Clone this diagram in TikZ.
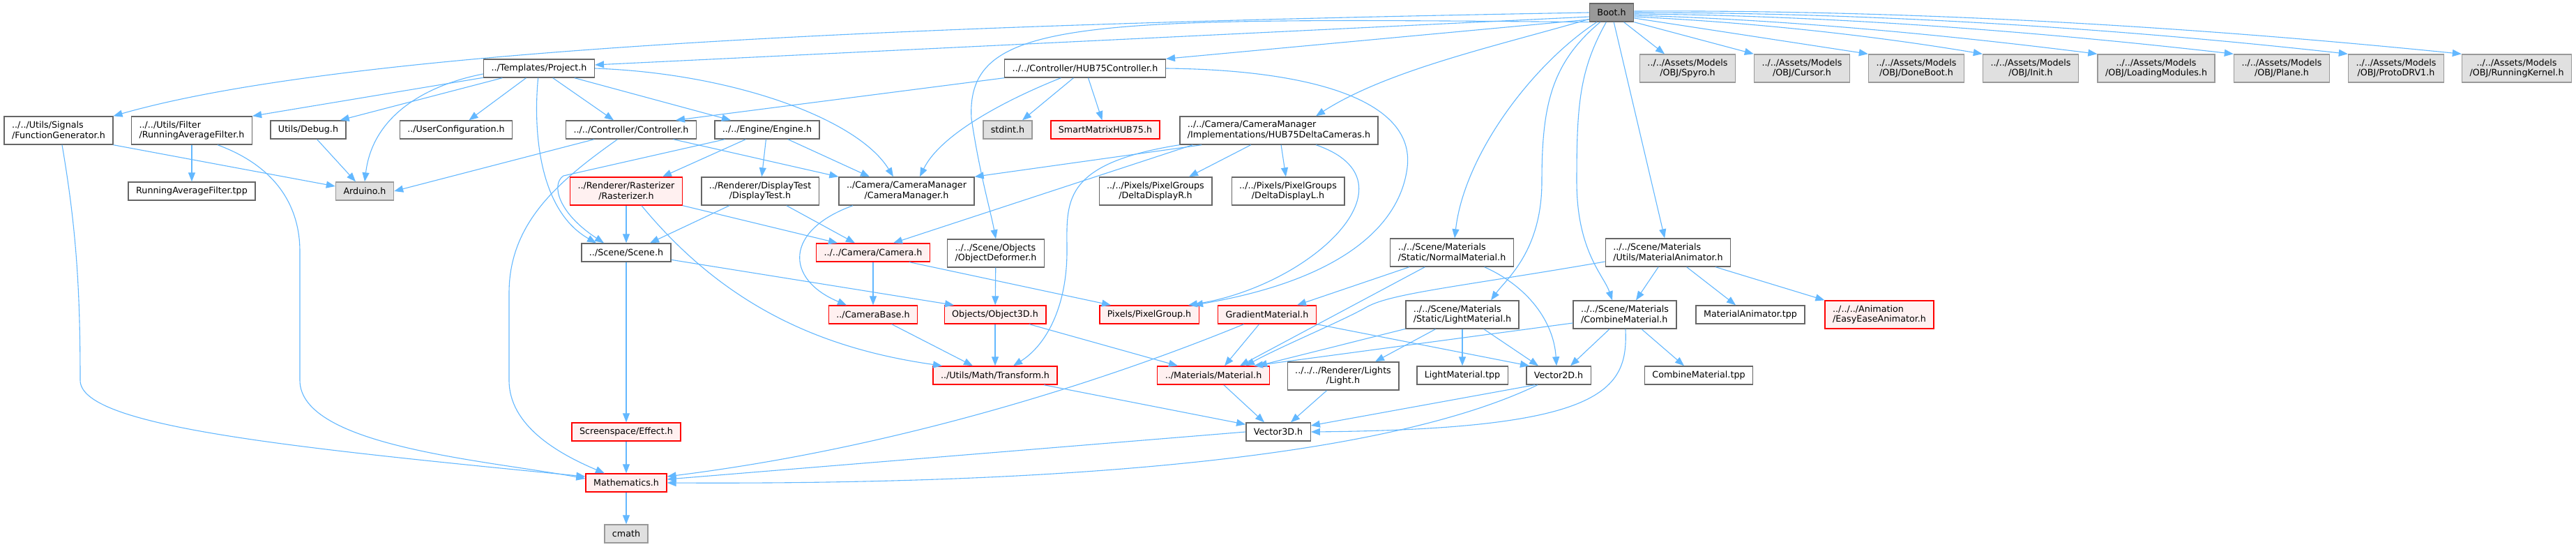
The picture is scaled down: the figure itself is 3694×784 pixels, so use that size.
\documentclass[tikz,border=0pt]{standalone}
\usepackage{fontspec}
\setmainfont{DejaVu Sans}
\usetikzlibrary{arrows.meta}
\definecolor{edgeblue}{HTML}{63B8FF}
\definecolor{redfill}{HTML}{FFF0F0}
\definecolor{sysfill}{HTML}{E0E0E0}
\definecolor{bootfill}{HTML}{999999}
\definecolor{darkline}{HTML}{666666}
\definecolor{sysline}{HTML}{999999}

\begin{document}
\begin{tikzpicture}[x=1pt, y=1pt,
  hdr/.style={draw=darkline, fill=white, line width=1.4pt, inner xsep=11pt, inner ysep=3pt,
    minimum height=26pt, align=center, font=\fontsize{12.7}{14.8}\selectfont},
  tall/.style={minimum height=40pt},
  lft/.style={align=left},
  hdrred/.style={hdr, draw=red, fill=redfill},
  hdrsys/.style={hdr, draw=sysline, fill=sysfill},
  hdrmain/.style={hdr, draw=darkline, fill=bootfill},
  incl/.style={draw=edgeblue, line width=1.1pt, -{Triangle[length=13pt,width=10pt]}}]
  \path[use as bounding box, fill=white] (0,0) rectangle (3694,-784);

  \node[hdrmain] (boot) at (2311,-18) {Boot.h};
  \node[hdr] (project) at (773,-98) {../Templates/Project.h};
  \node[hdr] (hubctl) at (1556,-98) {../../Controller/HUB75Controller.h};
  \node[hdrsys, tall] (spyro) at (2420,-98) {../../Assets/Models\\/OBJ/Spyro.h};
  \node[hdrsys, tall] (cursor) at (2584,-98) {../../Assets/Models\\/OBJ/Cursor.h};
  \node[hdrsys, tall] (doneboot) at (2748,-98) {../../Assets/Models\\/OBJ/DoneBoot.h};
  \node[hdrsys, tall] (init) at (2912,-98) {../../Assets/Models\\/OBJ/Init.h};
  \node[hdrsys, tall] (loadmod) at (3092,-98) {../../Assets/Models\\/OBJ/LoadingModules.h};
  \node[hdrsys, tall] (plane) at (3272,-98) {../../Assets/Models\\/OBJ/Plane.h};
  \node[hdrsys, tall] (protodrv) at (3436,-98) {../../Assets/Models\\/OBJ/ProtoDRV1.h};
  \node[hdrsys, tall] (runkernel) at (3609,-98) {../../Assets/Models\\/OBJ/RunningKernel.h};

  \node[hdr, tall, lft] (fungen) at (84,-187) {../../Utils/Signals\\/FunctionGenerator.h};
  \node[hdr, tall, lft] (ravgh) at (275,-187) {../../Utils/Filter\\/RunningAverageFilter.h};
  \node[hdr] (debug) at (442,-186) {Utils/Debug.h};
  \node[hdr] (usercfg) at (654,-186) {../UserConfiguration.h};
  \node[hdr] (controller) at (905,-186) {../../Controller/Controller.h};
  \node[hdr] (engine) at (1100,-186) {../../Engine/Engine.h};
  \node[hdrsys] (stdint) at (1445,-186) {stdint.h};
  \node[hdrred] (smartmx) at (1585,-186) {SmartMatrixHUB75.h};
  \node[hdr, tall, lft] (deltacams) at (1834,-187) {../../Camera/CameraManager\\/Implementations/HUB75DeltaCameras.h};

  \node[hdr] (ravgtpp) at (275,-274) {RunningAverageFilter.tpp};
  \node[hdrsys] (arduino) at (523,-274) {Arduino.h};
  \node[hdrred, tall] (rasterizer) at (898,-274) {../Renderer/Rasterizer\\/Rasterizer.h};
  \node[hdr, tall] (disptest) at (1090,-274) {../Renderer/DisplayTest\\/DisplayTest.h};
  \node[hdr, tall] (cammgr) at (1300,-274) {../Camera/CameraManager\\/CameraManager.h};
  \node[hdr, tall] (displayr) at (1657,-274) {../../Pixels/PixelGroups\\/DeltaDisplayR.h};
  \node[hdr, tall] (displayl) at (1847,-274) {../../Pixels/PixelGroups\\/DeltaDisplayL.h};

  \node[hdr] (scene) at (898,-362) {../Scene/Scene.h};
  \node[hdrred] (camera) at (1252,-362) {../../Camera/Camera.h};
  \node[hdr, tall, lft] (objdef) at (1428,-363) {../../Scene/Objects\\/ObjectDeformer.h};
  \node[hdr, tall, lft] (normalmat) at (2082,-362) {../../Scene/Materials\\/Static/NormalMaterial.h};
  \node[hdr, tall, lft] (matanim) at (2392,-362) {../../Scene/Materials\\/Utils/MaterialAnimator.h};

  \node[hdrred] (cambase) at (1252,-451) {../CameraBase.h};
  \node[hdrred] (object3d) at (1427,-451) {Objects/Object3D.h};
  \node[hdrred] (pixelgroup) at (1648,-451) {Pixels/PixelGroup.h};
  \node[hdrred] (gradmat) at (1817,-451) {GradientMaterial.h};
  \node[hdr, tall, lft] (lightmat) at (2097,-451) {../../Scene/Materials\\/Static/LightMaterial.h};
  \node[hdr, tall, lft] (combmat) at (2330,-451) {../../Scene/Materials\\/CombineMaterial.h};
  \node[hdr] (matanimtpp) at (2510,-451) {MaterialAnimator.tpp};
  \node[hdrred, tall, lft] (easyease) at (2695,-451) {../../../Animation\\/EasyEaseAnimator.h};

  \node[hdrred] (transform) at (1427,-538) {../Utils/Math/Transform.h};
  \node[hdrred] (material) at (1740,-538) {../Materials/Material.h};
  \node[hdr, tall] (light) at (1926,-539) {../../../Renderer/Lights\\/Light.h};
  \node[hdr] (lightmattpp) at (2097,-538) {LightMaterial.tpp};
  \node[hdr] (vector2d) at (2235,-538) {Vector2D.h};
  \node[hdr] (combmattpp) at (2436,-538) {CombineMaterial.tpp};

  \node[hdrred] (effect) at (898,-619) {Screenspace/Effect.h};
  \node[hdr] (vector3d) at (1833,-619) {Vector3D.h};
  \node[hdrred] (mathh) at (898,-692) {Mathematics.h};
  \node[hdrsys] (cmath) at (898,-765) {cmath};

  \draw[incl] (boot.west) .. controls (1300,-35) and (500,-70) .. (fungen.north east);
  \draw[incl] ([yshift=-6pt]boot.west) -- ([yshift=5pt]project.east);
  \draw[incl] ([yshift=-10pt]boot.west) -- (hubctl.north east);
  \draw[incl] (boot.south west) .. controls (1550,-25) and (1385,-25) .. (1393,-170)
    .. controls (1405,-250) and (1420,-300) .. (objdef.north);
  \draw[incl] (boot) .. controls (2150,-65) and (1990,-100) .. ([xshift=53pt]deltacams.north);
  \draw[incl] (boot) .. controls (2200,-90) and (2100,-220) .. ([xshift=4pt]normalmat.north);
  \draw[incl] (boot) .. controls (2225,-90) and (2211,-150) .. (2211,-260)
    .. controls (2211,-360) and (2160,-400) .. ([xshift=41pt]lightmat.north);
  \draw[incl] (boot) .. controls (2265,-100) and (2261,-150) .. (2261,-260)
    .. controls (2261,-360) and (2300,-395) .. ([xshift=-18pt]combmat.north);
  \draw[incl] (boot) -- (matanim);
  \draw[incl] (boot) -- ([xshift=-33pt]spyro.north);
  \draw[incl] (boot.south east) -- (cursor.north west);
  \draw[incl] ([yshift=-8pt]boot.east) -- (doneboot.north west);
  \draw[incl] ([yshift=-6pt]boot.east) .. controls (2510,-32) and (2680,-50) .. (init.north west);
  \draw[incl] ([yshift=-4pt]boot.east) .. controls (2560,-28) and (2790,-50) .. (loadmod.north west);
  \draw[incl] ([yshift=-2pt]boot.east) .. controls (2620,-22) and (2920,-45) .. (plane.north west);
  \draw[incl] (boot.east) .. controls (2680,-18) and (3030,-40) .. (protodrv.north west);
  \draw[incl] ([yshift=2pt]boot.east) .. controls (2740,-14) and (3140,-38) .. (runkernel.north west);

  \draw[incl] (project) -- (ravgh.north east);
  \draw[incl] (project) -- ([xshift=-9pt]debug.north east);
  \draw[incl] ([yshift=-8pt]project.west) .. controls (620,-120) and (535,-160) .. (arduino.north);
  \draw[incl] (project) -- (usercfg);
  \draw[incl] (project) .. controls (765,-180) and (770,-300) .. ([xshift=-43pt]scene.north);
  \draw[incl] (project) -- ([xshift=-25pt]controller.north);
  \draw[incl] (project) -- ([xshift=-52pt]engine.north);
  \draw[incl] (project.east) .. controls (1050,-105) and (1230,-170) .. ([xshift=-19pt]cammgr.north);

  \draw[incl] (controller) -- (arduino.east);
  \draw[incl] (controller) .. controls (800,-260) and (730,-320) .. (730,-420) -- (730,-545)
    .. controls (730,-610) and (800,-650) .. ([xshift=-31pt]mathh.north);
  \draw[incl] (controller) -- (cammgr.north west);

  \draw[incl] (engine) -- (808,-252) .. controls (790,-264) and (800,-305) .. ([xshift=-32pt]scene.north);
  \draw[incl] (engine) -- ([xshift=52pt]rasterizer.north);
  \draw[incl] (engine) -- (disptest);
  \draw[incl] (engine) -- ([xshift=-53pt]cammgr.north);

  \draw[incl] (hubctl.south west) -- ([xshift=64pt]controller.north);
  \draw[incl] (hubctl) .. controls (1450,-140) and (1350,-190) .. ([xshift=19pt]cammgr.north);
  \draw[incl] (hubctl) -- ([xshift=21pt]stdint.north);
  \draw[incl] (hubctl) -- (smartmx);
  \draw[incl] (hubctl.east) .. controls (1870,-100) and (2030,-140) .. (2018,-240)
    .. controls (2008,-320) and (1930,-400) .. ([xshift=64pt]pixelgroup.north);

  \draw[incl] ([xshift=32pt]deltacams.south west) -- (cammgr.north east);
  \draw[incl] ([xshift=19pt]deltacams.south west) -- ([xshift=29pt]camera.north);
  \draw[incl] (deltacams.south west) .. controls (1520,-235) and (1530,-290) .. (1530,-360)
    .. controls (1530,-440) and (1500,-495) .. ([xshift=26pt]transform.north);
  \draw[incl] (deltacams) -- ([xshift=48pt]displayr.north);
  \draw[incl] (deltacams) -- (displayl);
  \draw[incl] ([xshift=53pt]deltacams.south) .. controls (2040,-260) and (1880,-410) .. ([xshift=56pt]pixelgroup.north);

  \draw[incl] (rasterizer) -- (scene);
  \draw[incl] (rasterizer.south east) -- ([xshift=-51pt]camera.north);
  \draw[incl] ([xshift=22pt]rasterizer.south) .. controls (1040,-440) and (1180,-500) .. ([xshift=-76pt]transform.north);

  \draw[incl] (disptest) -- ([xshift=34pt]scene.north);
  \draw[incl] (disptest) -- ([xshift=-26pt]camera.north);

  \draw[incl] ([xshift=-77pt]cammgr.south) .. controls (1125,-330) and (1125,-400) .. ([xshift=-38pt]cambase.north);

  \draw[incl] (camera) -- (cambase);
  \draw[incl] ([xshift=-30pt]camera.south east) -- ([xshift=-55pt]pixelgroup.north);

  \draw[incl] (scene) -- (effect);
  \draw[incl] (scene) -- ([xshift=-59pt]object3d.north);
  \draw[incl] (objdef) -- (object3d);
  \draw[incl] (cambase) -- ([xshift=-32pt]transform.north);
  \draw[incl] (object3d) -- (transform);
  \draw[incl] (object3d) -- ([xshift=-51pt]material.north);

  \draw[incl] (transform) -- ([yshift=-3pt]vector3d.north west);
  \draw[incl] (material) -- ([xshift=-20pt]vector3d.north);
  \draw[incl] (light) -- ([xshift=18pt]vector3d.north);
  \draw[incl] (vector3d.west) -- ([yshift=5pt]mathh.east);

  \draw[incl] (gradmat) -- ([xshift=16pt]material.north);
  \draw[incl] (gradmat) .. controls (1600,-540) and (1300,-640) .. ([yshift=9pt]mathh.east);
  \draw[incl] (gradmat.south east) -- ([xshift=-42pt]vector2d.north);

  \draw[incl] (normalmat) -- ([xshift=43pt]gradmat.north);
  \draw[incl] (normalmat) -- ([xshift=38pt]material.north);
  \draw[incl] (normalmat) .. controls (2190,-410) and (2228,-460) .. ([xshift=-3pt]vector2d.north);

  \draw[incl] (lightmat) -- ([xshift=64pt]material.north);
  \draw[incl] (lightmat) -- ([xshift=46pt]light.north);
  \draw[incl] (lightmat) -- (lightmattpp);
  \draw[incl] (lightmat) -- ([xshift=-29pt]vector2d.north);

  \draw[incl] ([yshift=-12pt]combmat.west) -- ([xshift=58pt]material.north);
  \draw[incl] (combmat) -- ([xshift=17pt]vector2d.north);
  \draw[incl] (combmat) .. controls (2335,-560) and (2300,-615) .. (vector3d.east);
  \draw[incl] (combmat) -- ([xshift=-21pt]combmattpp.north);

  \draw[incl] ([yshift=-13pt]matanim.west) .. controls (2100,-410) and (1995,-420) .. (1960,-440)
    .. controls (1925,-460) and (1840,-495) .. ([xshift=46pt]material.north);
  \draw[incl] (matanim) -- ([xshift=16pt]combmat.north);
  \draw[incl] (matanim) -- ([xshift=-21pt]matanimtpp.north);
  \draw[incl] (matanim) -- (easyease.north west);

  \draw[incl] (fungen.south east) -- ([yshift=7pt]arduino.west);
  \draw[incl] ([xshift=5pt]fungen.south) .. controls (110,-330) and (115,-420) .. (115,-545)
    .. controls (115,-610) and (400,-640) .. ([yshift=9pt]mathh.west);
  \draw[incl] (ravgh) -- (ravgtpp);
  \draw[incl] ([xshift=37pt]ravgh.south) .. controls (400,-240) and (430,-300) .. (430,-360) -- (430,-545)
    .. controls (430,-640) and (700,-660) .. ([yshift=6pt]mathh.west);
  \draw[incl] (debug) -- ([xshift=-13pt]arduino.north);

  \draw[incl] (effect) -- (mathh);
  \draw[incl] (mathh) -- (cmath);
  \draw[incl] ([xshift=-34pt]vector2d.south) -- ([yshift=9pt]vector3d.east);
  \draw[incl] ([xshift=-30pt]vector2d.south) .. controls (1980,-660) and (1500,-695) .. (mathh.east);
\end{tikzpicture}
\end{document}
